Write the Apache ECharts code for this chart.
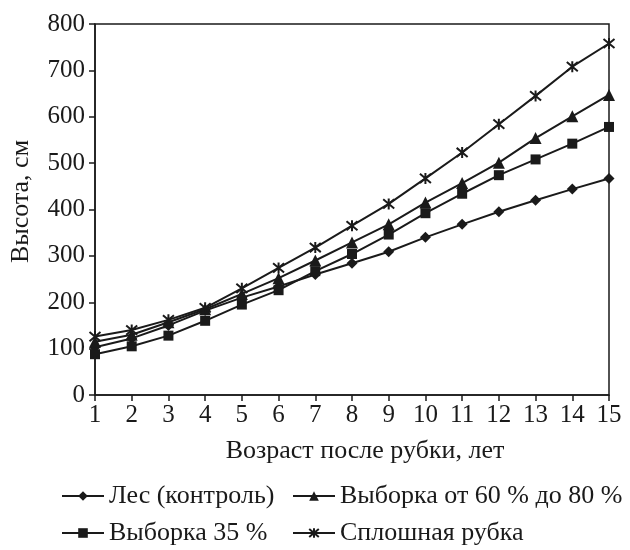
<!DOCTYPE html>
<html>
<head>
<meta charset="utf-8">
<script src="https://cdn.jsdelivr.net/npm/echarts@6/dist/echarts.min.js"></script>
<style>
html,body{margin:0;padding:0;background:#fff;}
#chart{width:630px;height:550px;}
</style>
</head>
<body>
<div id="chart"></div>
<script>
const years = [1,2,3,4,5,6,7,8,9,10,11,12,13,14,15];
const forestControl = [103,122,150,182,210,234,260,284,309,340,368,395,420,444,467];
const select60to80 = [115,130,157,185,218,252,290,329,368,415,457,501,554,601,647];
const select35 = [88,105,128,160,195,226,267,304,346,392,434,474,508,542,578];
const clearCut = [126,140,162,188,230,274,318,365,412,467,523,584,645,708,758];
const yTicks = {min:0, max:800, interval:100};

const names = ['Лес (контроль)','Выборка от 60 % до 80 %','Выборка 35 %','Сплошная рубка'];
const starPath = 'path://M0,0L10,10M10,0L0,10M5,-1L5,11';
const toPairs = arr => arr.map((v,i)=>[years[i], v]);
const font = '"Liberation Serif", "Times New Roman", serif';
const ink = '#1a1a1a';

function mk(name, data, symbol, size, extra){
  return Object.assign({
    name, type:'line', data: toPairs(data), symbol, symbolSize:size,
    showSymbol:true,
    lineStyle:{color:ink, width:2},
    itemStyle:{color:ink, borderColor:ink, borderWidth:0},
    emphasis:{disabled:true}, animation:false
  }, extra||{});
}
function lg(name, left, top){
  return {data:[name], orient:'horizontal', left, top, itemWidth:42, itemHeight:12,
    textStyle:{fontFamily:font, fontSize:26, color:ink}, inactiveColor:ink, selectedMode:false};
}

const chart = echarts.init(document.getElementById('chart'));
chart.setOption({
  backgroundColor:'#fff',
  animation:false,
  grid:{left:94, right:21, top:24, bottom:155, show:true, borderColor:ink, borderWidth:1.5, backgroundColor:'transparent'},
  xAxis:{
    type:'value', min:1, max:15, interval:1,
    name:'Возраст после рубки, лет', nameLocation:'middle', nameGap:43,
    nameTextStyle:{fontFamily:font, fontSize:26, color:ink, padding:[0,0,0,26]},
    axisLine:{lineStyle:{color:ink, width:1.5}},
    axisTick:{show:true, inside:false, length:6, lineStyle:{color:ink, width:1.5}},
    axisLabel:{fontFamily:font, fontSize:25, color:ink, margin:8},
    splitLine:{show:false}
  },
  yAxis:{
    type:'value', min:yTicks.min, max:yTicks.max, interval:yTicks.interval,
    name:'Высота, см', nameLocation:'middle', nameGap:61,
    nameTextStyle:{fontFamily:font, fontSize:26, color:ink, padding:[0,0,0,16]},
    axisLine:{show:true, lineStyle:{color:ink, width:1.5}},
    axisTick:{show:true, inside:false, length:6, lineStyle:{color:ink, width:1.5}},
    axisLabel:{fontFamily:font, fontSize:25, color:ink, margin:10},
    splitLine:{show:false}
  },
  legend:[
    lg(names[0], 56, 478),
    lg(names[1], 287, 478),
    lg(names[2], 56, 515),
    lg(names[3], 287, 515)
  ],
  series:[
    mk(names[0], forestControl, 'diamond', 11),
    mk(names[1], select60to80, 'triangle', 12),
    mk(names[2], select35, 'rect', 10),
    mk(names[3], clearCut, starPath, 11, {itemStyle:{color:'transparent', borderColor:ink, borderWidth:2}})
  ]
});
</script>
</body>
</html>
